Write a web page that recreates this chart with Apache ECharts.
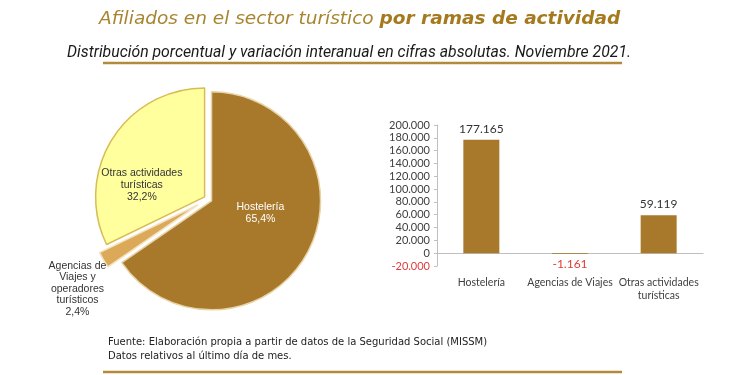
<!DOCTYPE html>
<html>
<head>
<meta charset="utf-8">
<script src="https://cdn.jsdelivr.net/npm/echarts@6/dist/echarts.min.js"></script>
<style>
  html, body { margin: 0; padding: 0; background: #fff; }
  #main { width: 750px; height: 375px; }
</style>
</head>
<body>
<div id="main"></div>
<script>
var chartDom = document.getElementById('main');
var myChart = echarts.init(chartDom);
var option;

// pie: distribucion porcentual
let pieNames = ['Hostelería', 'Agencias de\nViajes y\noperadores\nturísticos', 'Otras actividades\nturísticas'];
let pieValues = [65.4, 2.4, 32.2];
let pieColors = ['#a9792b', '#dba957', '#ffff9e'];

// bars: variacion interanual
let barCats = ['Hostelería', 'Agencias de Viajes', 'Otras actividades\nturísticas'];
let barValues = [177165, -1161, 59119];

let gold = '#a8842f';

function fmtNum(v) {
  let s = String(Math.abs(v)).replace(/\B(?=(\d{3})+(?!\d))/g, '.');
  return (v < 0 ? '-' : '') + s;
}

let pieLabelColors = ['#ffffff', '#333333', '#333333'];
let pieBorders = ['#e8d3a6', '#f3e2bd', '#d9bc55'];

// one series draws the two big slices, the other only the exploded small one
function pieData(showIdx) {
  return pieValues.map(function (v, i) {
    let visible = showIdx.indexOf(i) >= 0;
    return {
      name: pieNames[i],
      value: v,
      selected: true,
      itemStyle: visible
        ? { color: pieColors[i], borderColor: pieBorders[i], borderWidth: 1.5 }
        : { color: 'transparent', borderWidth: 0 },
      label: { show: visible, color: pieLabelColors[i] }
    };
  });
}

option = {
  animation: false,
  title: [
    {
      text: '{a|Afiliados en el sector turístico }{b|por ramas de actividad}',
      left: 94,
      top: 5,
      textStyle: {
        rich: {
          a: { fontFamily: 'DejaVu Sans', fontStyle: 'italic', fontWeight: 'normal', fontSize: 18.5, color: gold },
          b: { fontFamily: 'DejaVu Sans', fontStyle: 'italic', fontWeight: 'bold', fontSize: 18.5, color: '#a57a1f' }
        }
      }
    },
    {
      text: 'Distribución porcentual y variación interanual en cifras absolutas. Noviembre 2021.',
      left: 62,
      top: 40,
      textStyle: { fontFamily: 'Roboto', fontStyle: 'italic', fontWeight: 'normal', fontSize: 15.8, color: '#1a1a1a' }
    },
    {
      text: 'Fuente: Elaboración propia a partir de datos de la Seguridad Social (MISSM)\nDatos relativos al último día de mes.',
      left: 103,
      top: 330,
      textStyle: { fontFamily: 'DejaVu Sans', fontWeight: 'normal', fontSize: 10, lineHeight: 14, color: '#222' }
    }
  ],
  graphic: [
    { type: 'line', shape: { x1: 103, y1: 63, x2: 622, y2: 63 }, style: { stroke: '#b38a3a', lineWidth: 2.5 } },
    { type: 'line', shape: { x1: 103, y1: 372, x2: 622, y2: 372 }, style: { stroke: '#b38a3a', lineWidth: 2.5 } }
  ],
  grid: { left: 437, right: 47, top: 125, bottom: 109 },
  xAxis: {
    type: 'category',
    data: barCats,
    axisLine: { onZero: true, lineStyle: { color: '#bfbfbf' } },
    axisTick: { show: false },
    axisLabel: { interval: 0, margin: 10, fontFamily: 'Lato', fontSize: 10.5, color: '#404040', lineHeight: 13 }
  },
  yAxis: {
    type: 'value',
    min: -20000,
    max: 200000,
    interval: 20000,
    splitLine: { show: false },
    axisLine: { show: true, lineStyle: { color: '#bfbfbf' } },
    axisTick: { show: true, length: 3, lineStyle: { color: '#bfbfbf' } },
    axisLabel: {
      margin: 7,
      fontFamily: 'Lato',
      fontSize: 11,
      formatter: function (v) { return fmtNum(v); },
      color: function (v) { return Number(v) < 0 ? '#e03c3c' : '#404040'; }
    }
  },
  series: [
    {
      type: 'pie',
      center: [208, 199],
      radius: [0, 109],
      startAngle: 90,
      selectedMode: 'multiple',
      selectedOffset: 4,
      silent: true,
      data: pieData([0, 2]),
      label: {
        position: 'inside',
        fontFamily: 'Liberation Sans',
        fontSize: 10.5,
        lineHeight: 12,
        formatter: function (p) { return p.name + '\n' + String(p.value).replace('.', ',') + '%'; }
      },
      labelLayout: function (p) {
        if (p.dataIndex === 2) return { dx: -14, dy: 19 };
        if (p.dataIndex === 0) return { dx: -2, dy: -14 };
        return {};
      }
    },
    {
      type: 'pie',
      center: [208, 199],
      radius: [0, 109],
      startAngle: 90,
      selectedMode: 'multiple',
      selectedOffset: 12,
      silent: true,
      data: pieData([1]),
      label: {
        position: 'outside',
        fontFamily: 'Liberation Sans',
        fontSize: 10.5,
        lineHeight: 11.5,
        align: 'center',
        formatter: function (p) { return p.name + '\n' + String(p.value).replace('.', ',') + '%'; }
      },
      labelLine: { show: false, length: 0, length2: 0 },
      labelLayout: function (p) {
        if (p.dataIndex === 1) return { dx: -21, dy: 29, align: 'center' };
        return {};
      }
    },
    {
      type: 'bar',
      barWidth: 36,
      data: barValues.map(function (v) {
        return {
          value: v,
          label: v < 0
            ? { position: 'bottom', color: '#e03c3c', distance: 4 }
            : { position: 'top', color: '#333333', distance: 5 }
        };
      }),
      itemStyle: { color: '#a9792b' },
      label: {
        show: true,
        fontFamily: 'Lato',
        fontSize: 12,
        formatter: function (p) { return fmtNum(p.value); }
      }
    }
  ]
};

option && myChart.setOption(option);
</script>
</body>
</html>
